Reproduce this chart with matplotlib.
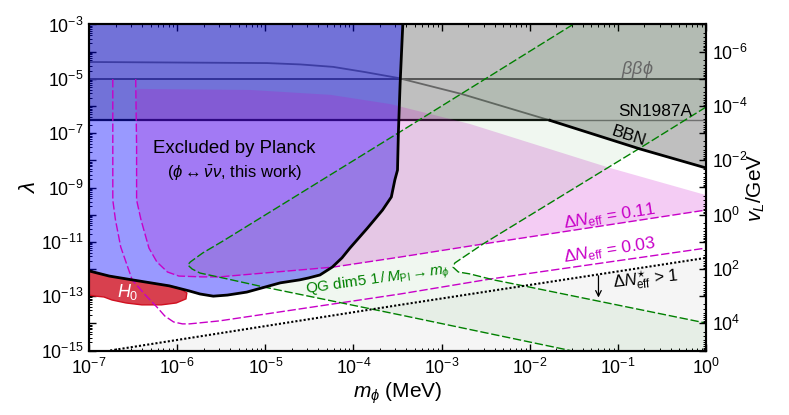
import matplotlib
matplotlib.use("Agg")
import matplotlib.pyplot as plt
from matplotlib.ticker import FixedLocator, NullFormatter
import numpy as np

plt.rcParams["font.family"] = ["Liberation Sans", "DejaVu Sans"]
plt.rcParams["mathtext.fontset"] = "custom"
plt.rcParams["mathtext.rm"] = "Liberation Sans"
plt.rcParams["mathtext.it"] = "Liberation Sans:italic"
plt.rcParams["mathtext.bf"] = "Liberation Sans:bold"
plt.rcParams["mathtext.fallback"] = "cm"

planck_x = [-7, -6.77, -6.51, -6.09, -5.86, -5.74, -5.59, -5.43, -5.21, -4.83, -4.61, -4.51, -4.38, -4.24, -4.13, -4.04, -3.84, -3.67, -3.57, -3.53, -3.50, -3.49, -3.47, -3.44]
planck_y = [-12.07, -12.26, -12.40, -12.62, -12.81, -12.92, -13.00, -12.96, -12.85, -12.51, -12.40, -12.33, -12.22, -11.93, -11.59, -11.23, -10.49, -9.83, -9.35, -8.72, -8.36, -6.99, -5.15, -3]

h0_x = [-7, -6.77, -6.51, -6.09, -5.98, -5.89, -5.90, -6.01, -6.18, -6.40, -6.58, -6.74, -6.83, -6.92, -7]
h0_y = [-12.07, -12.26, -12.40, -12.62, -12.70, -12.88, -13.10, -13.25, -13.32, -13.32, -13.25, -13.14, -13.03, -13.00, -12.96]

pink_top_x = [-6.46, -5.17, -4.26, -3.58, -2.68, -1.09, 0]
pink_top_y = [-5.37, -5.41, -5.59, -5.93, -6.66, -8.28, -9.28]

neff011_x = [-6.47, -6.46, -6.46, -6.41, -6.32, -6.23, -6.11, -5.98, -5.72, -5.52, -4.23, -3.47, -2.53, 0]
neff011_y = [-5.01, -7.5, -9.46, -10.19, -11.23, -11.74, -12.11, -12.26, -12.29, -12.29, -11.93, -11.56, -11.08, -9.83]

neff003_x = [-6.73, -6.73, -6.73, -6.70, -6.64, -6.51, -6.36, -6.23, -6.14, -6.04, -5.94, -5.86, -5.52, -3.47, -2.45, 0]
neff003_y = [-5.01, -7.62, -9.46, -10.19, -11.19, -12.40, -12.96, -13.40, -13.73, -13.95, -14.02, -14.02, -13.91, -12.92, -12.37, -11.23]

qg1_x = [-1.51, -3.49, -5.48, -5.71, -5.85, -5.88, -5.83, -5.74, -5.48, -5.02, -3.47, -1.54]
qg1_y = [-3, -6.99, -10.97, -11.41, -11.74, -11.85, -12.00, -12.15, -12.33, -12.66, -13.69, -15]
qg2_x = [0, -0.75, -2.53, -2.75, -2.85, -2.87, -2.81, -2.68, -2.41, -2.07, 0]
qg2_y = [-6.04, -7.55, -11.08, -11.56, -11.78, -11.93, -12.11, -12.18, -12.40, -12.62, -13.99]

star_x = [-6.76, -3.47, 0]
star_y = [-15, -13.32, -11.59]

curve_x = [-7, -4.98, -4.60, -4.23, -3.87, -3.49, -2.77, -1.77]
curve_y = [-4.38, -4.42, -4.47, -4.56, -4.75, -4.97, -5.56, -6.53]
bbn_x = [-1.77, -0.75, 0]
bbn_y = [-6.53, -7.58, -8.28]

sn_y = -6.53
bbphi_y = -5

MAGENTA = "#c800c8"
GREEN = "#008000"
DASH = (0, (6, 2))


def p(a):
    return 10.0 ** np.array(a, dtype=float)


fig = plt.figure(figsize=(7.89, 4.15), dpi=100)
ax = fig.add_axes([89 / 789, 1 - 350.5 / 415, 617 / 789, 326 / 415])
ax.set_xscale("log")
ax.set_yscale("log")
ax.set_xlim(1e-7, 1)
ax.set_ylim(1e-15, 1e-3)

# grey excluded region
grey_x = [-7, -1.77] + bbn_x[1:] + [0, -7]
grey_y = [sn_y, sn_y] + bbn_y[1:] + [-3, -3]
ax.fill(p(grey_x), p(grey_y), color="k", alpha=0.25, lw=0, zorder=1)

# lower grey region under dotted line
ax.fill(p(star_x + [0]), p(star_y + [-15]), color="k", alpha=0.04, lw=0, zorder=1)

# lines below planck
ax.plot(p([-7, 0]), p([bbphi_y, bbphi_y]), color="#555555", lw=1.4, zorder=2)
ax.plot(p(curve_x), p(curve_y), color="#666666", lw=1.3, zorder=2)
ax.plot(p([-7, -1.77]), p([sn_y, sn_y]), color="#111111", lw=1.6, zorder=2)
ax.plot(p([-1.77, 0]), p([sn_y, sn_y]), color="#707070", lw=1.0, zorder=2)
ax.plot(p(bbn_x), p(bbn_y), color="k", lw=2, zorder=5)

# planck
ax.fill(p(planck_x + [-7]), p(planck_y + [-3]), color="blue", alpha=0.4, lw=0, zorder=3)

# neff 0.11 filled
pink_x = neff011_x[2:][::-1] + pink_top_x
pink_y = neff011_y[2:][::-1] + pink_top_y
ax.fill(p(pink_x), p(pink_y), color=MAGENTA, alpha=0.2, lw=0, zorder=3.5)
ax.plot(p(neff011_x), p(neff011_y), color=MAGENTA, lw=1, ls=DASH, zorder=4)
ax.plot(p(neff003_x), p(neff003_y), color=MAGENTA, lw=1, ls=DASH, zorder=4)

# QG chevron
chev_x = qg1_x + [0] + qg2_x[::-1] + [0]
chev_y = qg1_y + [-15] + qg2_y[::-1] + [-3]
ax.fill(p(chev_x), p(chev_y), color=GREEN, alpha=0.06, lw=0, zorder=3.6)
ax.plot(p(qg1_x), p(qg1_y), color=GREEN, lw=1, ls=DASH, zorder=4.5)
ax.plot(p(qg2_x), p(qg2_y), color=GREEN, lw=1, ls=DASH, zorder=4.5)

ax.plot(p(star_x), p(star_y), color="k", lw=1.5, ls=(0, (1, 1)), zorder=5)

# H0
ax.fill(p(h0_x), p(h0_y), facecolor="#d8404e", edgecolor="#d01020", lw=1, zorder=3.8)
ax.plot(p(planck_x), p(planck_y), color="k", lw=2, zorder=6)

# texts
ax.text(10**-5.35, 10**-7.55, "Excluded by Planck", fontsize=13.4, ha="center", va="center", zorder=8)
ax.text(10**-5.35, 10**-8.47, r"($\phi\leftrightarrow\bar{\nu}\nu$, this work)", fontsize=12, ha="center", va="center", zorder=8)
ax.text(10**-0.78, 10**-4.67, r"$\beta\beta\phi$", fontsize=13, color="#666666", ha="center", va="center", zorder=8)
ax.text(10**-0.58, 10**-6.22, "SN1987A", fontsize=12.4, ha="center", va="center", zorder=8)
ax.text(10**-0.88, 10**-7.10, "BBN", fontsize=12.4, rotation=-18, ha="center", va="center", zorder=8)
ax.text(10**-1.09, 10**-10.05, r"$\Delta N_{\rm eff}$ = 0.11", fontsize=12.6, color=MAGENTA, rotation=9, ha="center", va="center", zorder=8)
ax.text(10**-1.09, 10**-11.30, r"$\Delta N_{\rm eff}$ = 0.03", fontsize=12.6, color=MAGENTA, rotation=9, ha="center", va="center", zorder=8)
ax.text(10**-0.69, 10**-12.37, r"$\Delta N^{\star}_{\rm eff}$ > 1", fontsize=12, rotation=6, ha="center", va="center", zorder=8)
ax.annotate("", xy=(10**-1.22, 10**-13.05), xytext=(10**-1.22, 10**-12.25),
            arrowprops=dict(arrowstyle="->", lw=0.9, color="k", shrinkA=0, shrinkB=0), zorder=8)
ax.text(10**-3.72, 10**-12.42, r"QG dim5 $1\,/\,M_{\rm Pl}\rightarrow m_{\phi}$", fontsize=11, color=GREEN, rotation=8, ha="center", va="center", zorder=8)
ax.text(10**-6.56, 10**-12.85, r"$H_0$", fontsize=13, color="w", ha="center", va="center", zorder=8)

ax.set_xlabel(r"$m_{\phi}$ (MeV)", fontsize=15, labelpad=2)
ax.set_ylabel(r"$\lambda$", fontsize=16)
ax.yaxis.set_label_coords(-0.08, 0.5)

x_major = [1e-7, 1e-6, 1e-5, 1e-4, 1e-3, 1e-2, 1e-1, 1]
x_labels = [r"$10^{-7}$", r"$10^{-6}$", r"$10^{-5}$", r"$10^{-4}$", r"$10^{-3}$", r"$10^{-2}$", r"$10^{-1}$", r"$10^{0}$"]
ax.set_xticks(x_major)
ax.set_xticklabels(x_labels, fontsize=12.8)
y_major = [10.0**e for e in range(-15, -2)]
y_labels = [r"$10^{%d}$" % e if e % 2 else "" for e in range(-15, -2)]
ax.set_yticks(y_major)
ax.set_yticklabels(y_labels, fontsize=12.8)


def minors(lo, hi):
    return [m * 10.0**e for e in range(lo, hi) for m in range(2, 10)]


ax.xaxis.set_minor_locator(FixedLocator(minors(-7, 0)))
ax.xaxis.set_minor_formatter(NullFormatter())
ax.yaxis.set_minor_locator(FixedLocator(minors(-15, -3)))
ax.yaxis.set_minor_formatter(NullFormatter())
ax.tick_params(axis="x", which="major", direction="in", length=5, width=1, top=True, pad=5)
ax.tick_params(axis="y", which="major", direction="in", length=5, width=1, pad=4)
ax.tick_params(which="minor", direction="in", length=2.5, width=0.7, top=True)

# right axis vL = 1e-10 / lambda
ax2 = ax.twinx()
ax2.set_yscale("log")
ax2.set_ylim(1e5, 1e-7)
r_major = [10.0**e for e in range(-7, 6)]
r_labels = [r"$10^{%d}$" % e if e % 2 == 0 else "" for e in range(-7, 6)]
ax2.set_yticks(r_major)
ax2.set_yticklabels(r_labels, fontsize=12.8)
ax2.yaxis.set_minor_locator(FixedLocator(minors(-7, 5)))
ax2.yaxis.set_minor_formatter(NullFormatter())
ax2.tick_params(which="major", direction="in", length=5, width=1, pad=4)
ax2.tick_params(which="minor", direction="in", length=2.5, width=0.7)
ax2.set_ylabel(r"$v_L$/GeV", fontsize=15)
ax2.yaxis.set_label_coords(1.063, 0.5)

for a in (ax, ax2):
    for s in a.spines.values():
        s.set_linewidth(1.5)
        s.set_zorder(10)

fig.savefig("out.png", dpi=100)
